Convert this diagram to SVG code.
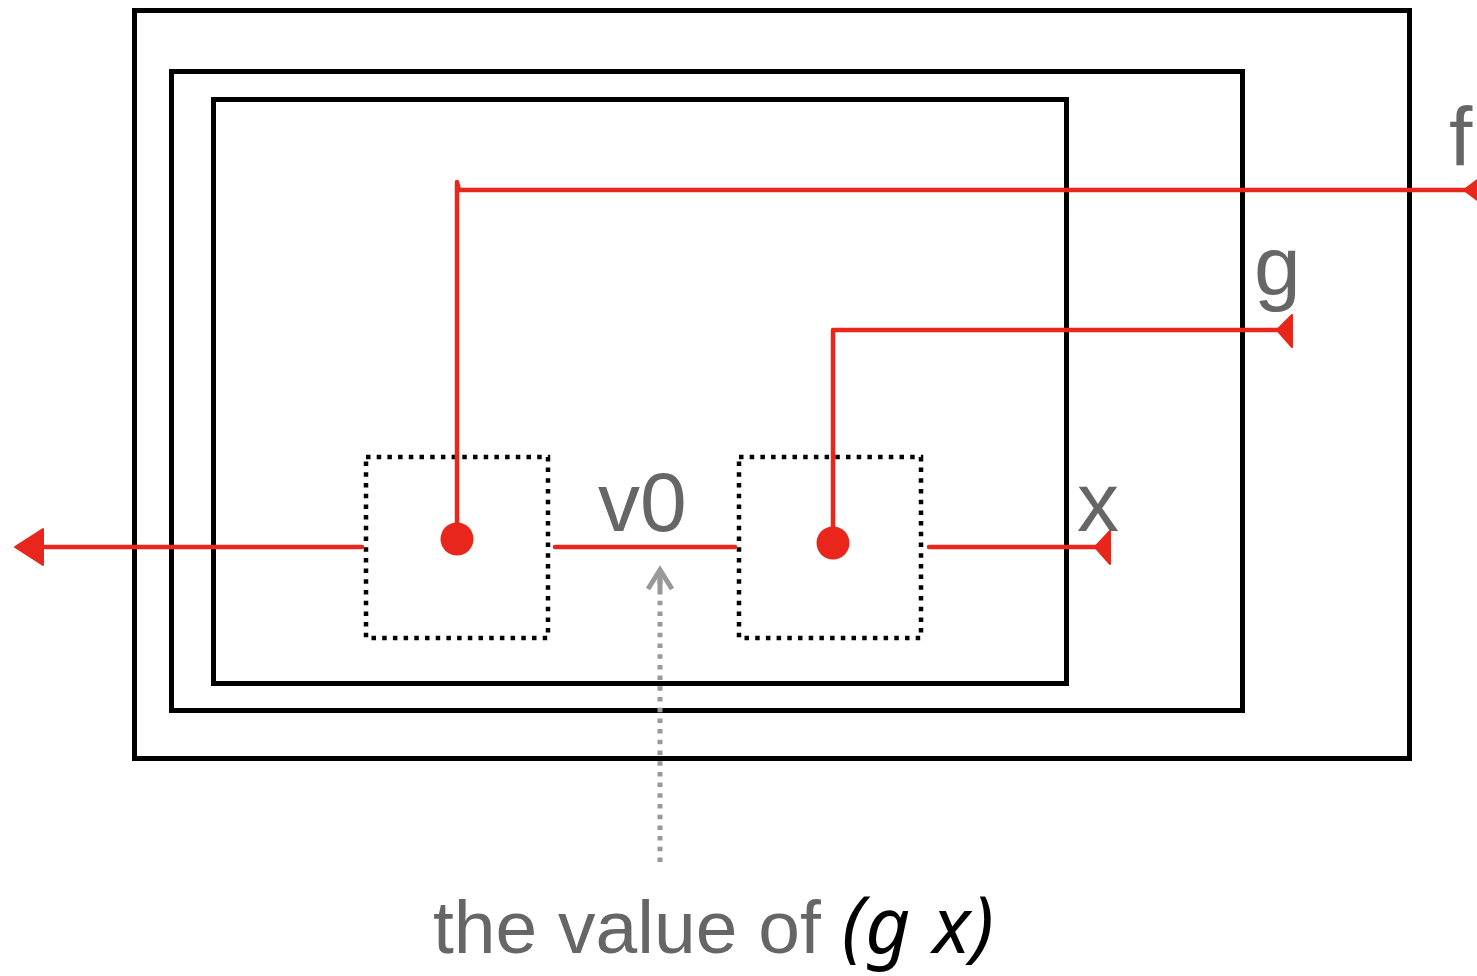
<svg xmlns="http://www.w3.org/2000/svg" width="1477" height="976" viewBox="0 0 1477 976">
<style>
.frame{fill:none;stroke:#000;stroke-width:5}
.dotbox{fill:none;stroke:#000;stroke-width:4.5;stroke-dasharray:4.5 6.2}
.wire{fill:none;stroke:#e8261b;stroke-width:4.5;stroke-linecap:round;stroke-linejoin:round}
.head{fill:#e8261b;stroke:#e8261b;stroke-width:2;stroke-linejoin:round}
.lbl{font-family:"Liberation Sans",Arial,Helvetica,sans-serif;fill:#666}
.hint{fill:none;stroke:#999;stroke-width:5}
</style>
<rect width="1477" height="976" fill="#fff"/>
<g id="frame-outer"><rect class="frame" x="134.5" y="10.5" width="1275" height="748"/></g>
<g id="frame-middle"><rect class="frame" x="171.5" y="71.5" width="1071" height="639"/></g>
<g id="frame-inner"><rect class="frame" x="213.5" y="99.5" width="853" height="584"/></g>
<g id="node-apply-f">
<rect class="dotbox" x="366" y="457" width="182" height="181"/>
<circle cx="457" cy="539" r="16.5" fill="#e8261b"/>
</g>
<g id="node-apply-g">
<rect class="dotbox" x="739" y="457" width="182" height="181"/>
<circle cx="833" cy="543" r="16.5" fill="#e8261b"/>
</g>
<g id="connectors">
<polyline class="wire" points="457,539 457,182 459,190 1477,190"/>
<polygon class="head" points="1464,190 1480,178 1480,202"/>
<polyline class="wire" points="833,543 833,330 1280,330"/>
<polygon class="head" points="1277,330 1292,315 1292,347"/>
<line class="wire" x1="929" y1="547" x2="1098" y2="547"/>
<polygon class="head" points="1095,547 1110,531 1110,564"/>
<line class="wire" x1="555" y1="547" x2="735" y2="547"/>
<line class="wire" x1="362" y1="547" x2="40" y2="547"/>
<polygon class="head" points="15,547 43,529 43,565"/>
<line class="hint" x1="660" y1="862" x2="660" y2="578" stroke-dasharray="4.5 6.2"/>
<polyline class="hint" points="648,589 660,570 672,589" stroke-width="4.5"/>
<line class="hint" x1="660" y1="571" x2="660" y2="590"/>
</g>
<g id="labels">
<text class="lbl" x="1449" y="166" font-size="84">f</text>
<text class="lbl" x="1254" y="295" font-size="84">g</text>
<text class="lbl" x="1077" y="531" font-size="84">x</text>
<text class="lbl" x="598" y="531" font-size="84">v0</text>
<text x="433" y="953" font-size="75"><tspan class="lbl">the value of </tspan><tspan font-family="'Noto Sans','DejaVu Sans',sans-serif" font-style="italic" fill="#000" font-size="78" letter-spacing="1">(g x)</tspan></text>
</g>
</svg>
